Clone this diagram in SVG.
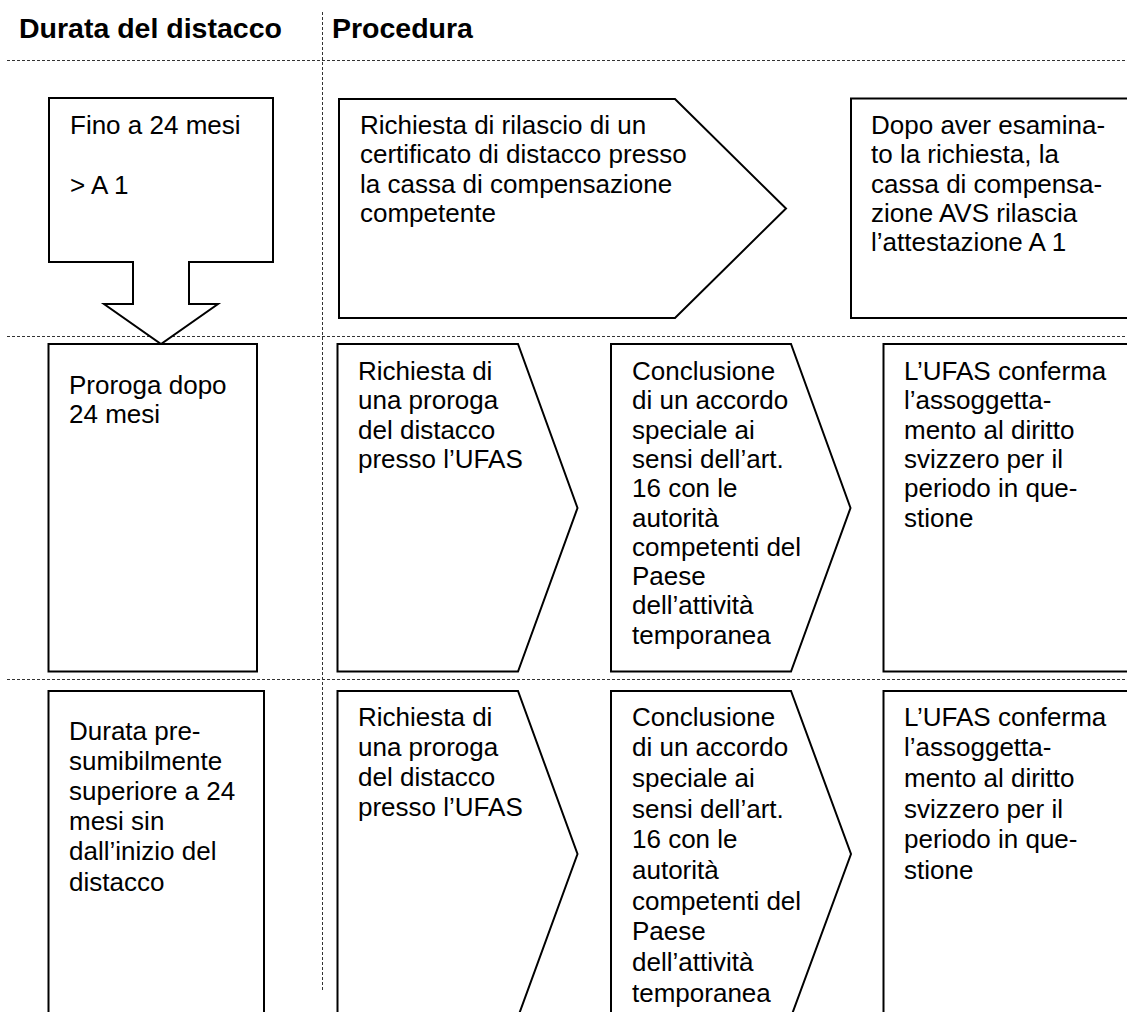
<svg xmlns="http://www.w3.org/2000/svg" width="1127" height="1012" viewBox="0 0 1127 1012">
<style>
.bg{fill:#fff}
.sh{fill:#fff;stroke:#000;stroke-width:2;stroke-linejoin:miter}
.dl{stroke:#333;stroke-width:1;stroke-dasharray:3 2;fill:none}
.t{font-family:"Liberation Sans",Arial,sans-serif;font-size:26px;fill:#000}
.h{font-family:"Liberation Sans",Arial,sans-serif;font-size:28.5px;font-weight:bold;fill:#000}
</style>
<rect class="bg" x="0" y="0" width="1127" height="1012"/>
<g id="grid">
<line class="dl" x1="7" y1="60.5" x2="1127" y2="60.5"/>
<line class="dl" x1="7" y1="336.5" x2="1127" y2="336.5"/>
<line class="dl" x1="7" y1="679.5" x2="1127" y2="679.5"/>
<line class="dl" x1="322.5" y1="12" x2="322.5" y2="990"/>
</g>
<g id="headers">
<text class="h" x="19" y="38">Durata del distacco</text>
<text class="h" x="332" y="38">Procedura</text>
</g>
<g id="connectors"></g>
<g id="n-fino">
<path class="sh" d="M49,98 H273 V262 H189 V304 H218 L161,344 L104,304 H133 V262 H49 Z"/>
<text class="t" x="70" y="134">Fino a 24 mesi</text>
<text class="t" x="70" y="194">&gt; A 1</text>
</g>
<g id="n-richiesta1">
<path class="sh" d="M339,99 H675 L786,208.5 L675,318 H339 Z"/>
<text class="t" x="360" y="134">Richiesta di rilascio di un</text>
<text class="t" x="360" y="163.3">certificato di distacco presso</text>
<text class="t" x="360" y="192.6">la cassa di compensazione</text>
<text class="t" x="360" y="221.9">competente</text>
</g>
<g id="n-dopo">
<rect class="sh" x="851" y="98.5" width="300" height="219.5"/>
<text class="t" x="871" y="134">Dopo aver esamina-</text>
<text class="t" x="871" y="163.3">to la richiesta, la</text>
<text class="t" x="871" y="192.6">cassa di compensa-</text>
<text class="t" x="871" y="221.9">zione AVS rilascia</text>
<text class="t" x="871" y="251.2">l’attestazione A 1</text>
</g>
<g id="n-proroga">
<rect class="sh" x="48.5" y="344" width="208.5" height="327.5"/>
<text class="t" x="69" y="394">Proroga dopo</text>
<text class="t" x="69" y="423.3">24 mesi</text>
</g>
<g id="n-richiesta2">
<path class="sh" d="M337.5,344 H518 L577.5,508 L518,671.5 H337.5 Z"/>
<text class="t" x="358" y="380">Richiesta di</text>
<text class="t" x="358" y="409.3">una proroga</text>
<text class="t" x="358" y="438.6">del distacco</text>
<text class="t" x="358" y="467.9">presso l’UFAS</text>
</g>
<g id="n-conclusione2">
<path class="sh" d="M611,344 H791 L850.5,508 L791,671.5 H611 Z"/>
<text class="t" x="632" y="380">Conclusione</text>
<text class="t" x="632" y="409.3">di un accordo</text>
<text class="t" x="632" y="438.6">speciale ai</text>
<text class="t" x="632" y="467.9">sensi dell’art.</text>
<text class="t" x="632" y="497.2">16 con le</text>
<text class="t" x="632" y="526.5">autorità</text>
<text class="t" x="632" y="555.8">competenti del</text>
<text class="t" x="632" y="585.1">Paese</text>
<text class="t" x="632" y="614.4">dell’attività</text>
<text class="t" x="632" y="643.7">temporanea</text>
</g>
<g id="n-ufas2">
<rect class="sh" x="883.5" y="344" width="260" height="327.5"/>
<text class="t" x="904" y="380">L’UFAS conferma</text>
<text class="t" x="904" y="409.3">l’assoggetta-</text>
<text class="t" x="904" y="438.6">mento al diritto</text>
<text class="t" x="904" y="467.9">svizzero per il</text>
<text class="t" x="904" y="497.2">periodo in que-</text>
<text class="t" x="904" y="526.5">stione</text>
</g>
<g id="n-durata">
<rect class="sh" x="48.5" y="691" width="215.5" height="340"/>
<text class="t" x="69" y="739.5">Durata pre-</text>
<text class="t" x="69" y="769.7">sumibilmente</text>
<text class="t" x="69" y="799.9">superiore a 24</text>
<text class="t" x="69" y="830.1">mesi sin</text>
<text class="t" x="69" y="860.3">dall’inizio del</text>
<text class="t" x="69" y="890.5">distacco</text>
</g>
<g id="n-richiesta3">
<path class="sh" d="M337.5,691 H518 L577.5,854 L518,1017 H337.5 Z"/>
<text class="t" x="358" y="725.5">Richiesta di</text>
<text class="t" x="358" y="755.8">una proroga</text>
<text class="t" x="358" y="786.1">del distacco</text>
<text class="t" x="358" y="816.4">presso l’UFAS</text>
</g>
<g id="n-conclusione3">
<path class="sh" d="M611,691 H791 L851,854 L791,1017 H611 Z"/>
<text class="t" x="632" y="725.5">Conclusione</text>
<text class="t" x="632" y="756.2">di un accordo</text>
<text class="t" x="632" y="786.9">speciale ai</text>
<text class="t" x="632" y="817.6">sensi dell’art.</text>
<text class="t" x="632" y="848.3">16 con le</text>
<text class="t" x="632" y="879">autorità</text>
<text class="t" x="632" y="909.7">competenti del</text>
<text class="t" x="632" y="940.4">Paese</text>
<text class="t" x="632" y="971.1">dell’attività</text>
<text class="t" x="632" y="1001.8">temporanea</text>
</g>
<g id="n-ufas3">
<rect class="sh" x="883.5" y="691" width="260" height="340"/>
<text class="t" x="904" y="725.5">L’UFAS conferma</text>
<text class="t" x="904" y="756.2">l’assoggetta-</text>
<text class="t" x="904" y="786.9">mento al diritto</text>
<text class="t" x="904" y="817.6">svizzero per il</text>
<text class="t" x="904" y="848.3">periodo in que-</text>
<text class="t" x="904" y="879">stione</text>
</g>
</svg>
